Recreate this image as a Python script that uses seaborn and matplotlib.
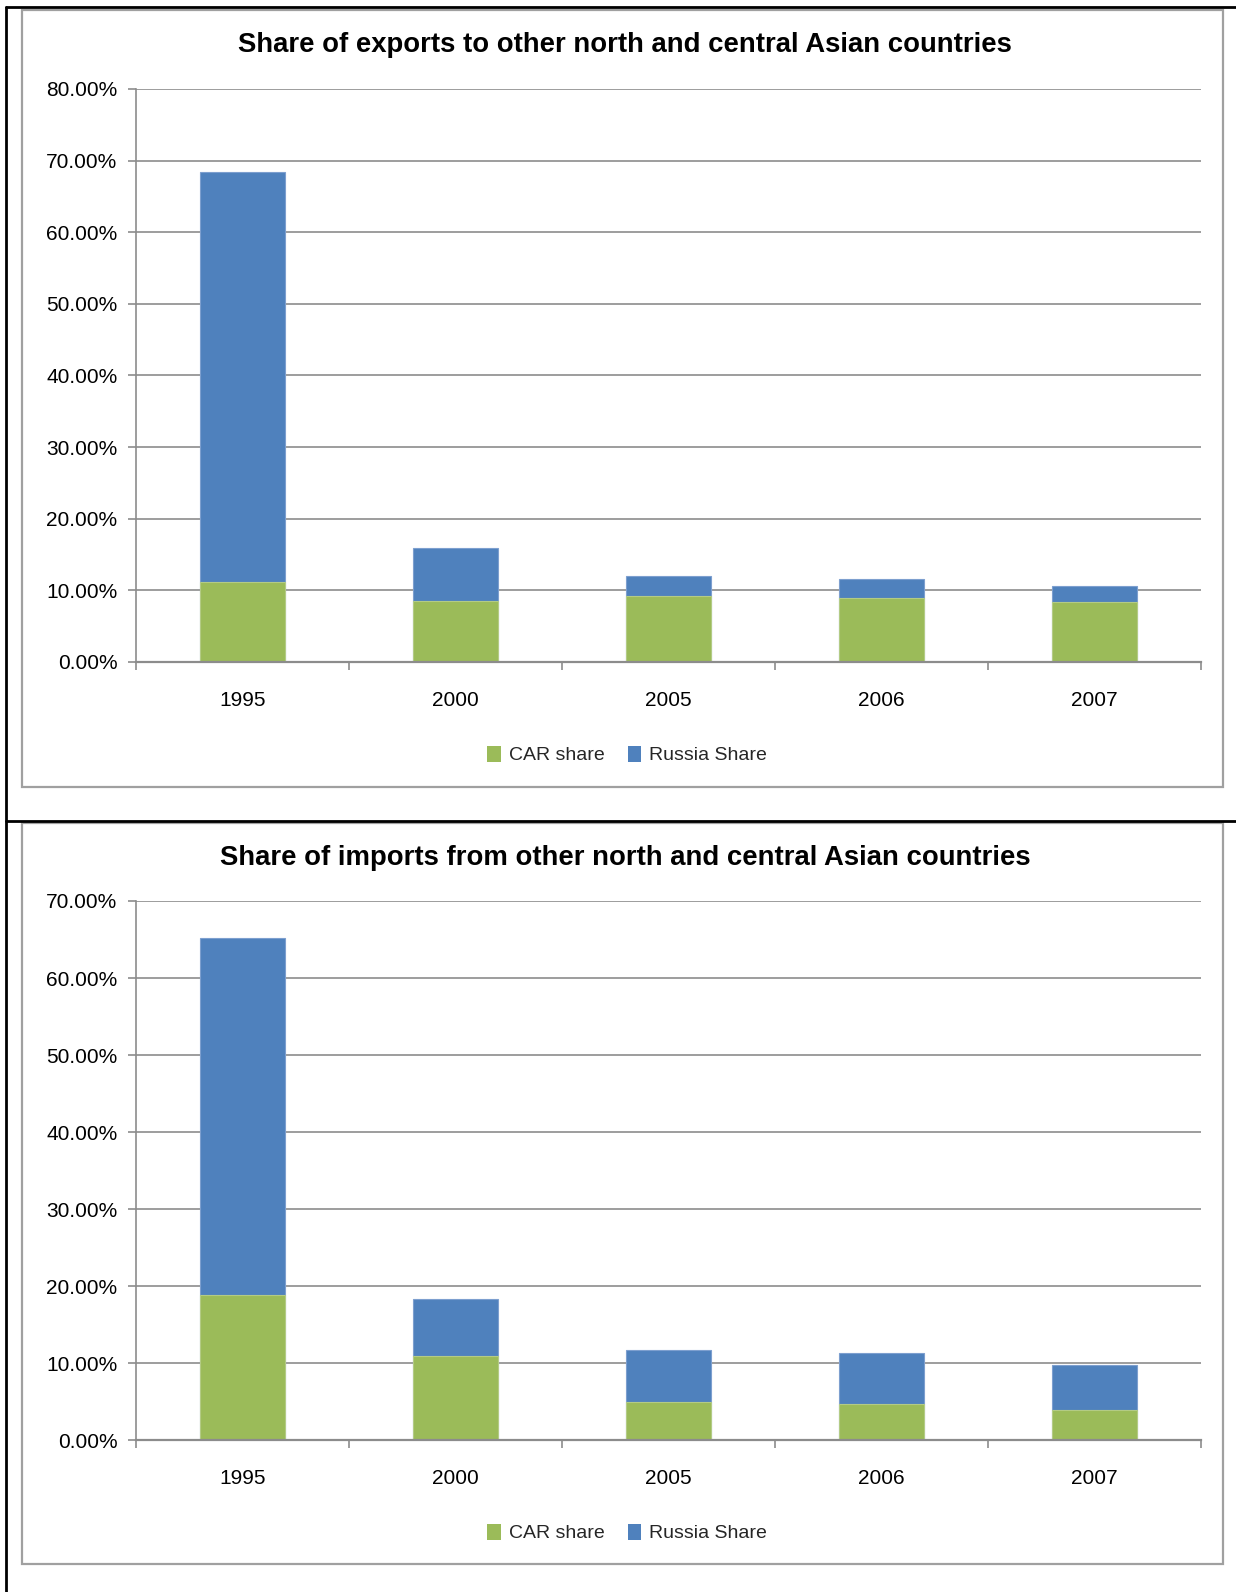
import matplotlib
matplotlib.use("Agg")
import matplotlib.pyplot as plt
import matplotlib.patches as mpatches
from matplotlib.lines import Line2D
from matplotlib.ticker import PercentFormatter, FixedLocator, MultipleLocator
import seaborn as sns
import pandas as pd

# Years shown on the x axis
years = ["1995", "2000", "2005", "2006", "2007"]

# Exports: shares in percent
export_car = [11.2, 8.55, 9.2, 8.95, 8.35]
export_russia = [57.2, 7.35, 2.8, 2.65, 2.25]

# Imports: shares in percent
import_car = [18.8, 10.9, 5.0, 4.7, 3.9]
import_russia = [46.4, 7.4, 6.7, 6.6, 5.85]

titles = [
    "Share of exports to other north and central Asian countries",
    "Share of imports from other north and central Asian countries",
]
series_names = ["CAR share", "Russia Share"]

GREEN = "#9BBB59"
BLUE = "#4F81BD"
GRID = "#8C8C8C"

sns.set_theme(style="white")
plt.rcParams["font.family"] = ["Liberation Sans", "DejaVu Sans"]

W, H = 1236, 1592
fig = plt.figure(figsize=(W / 100, H / 100), dpi=100)
fig.patch.set_facecolor("white")


def fx(px):
    return px / W


def fy(py):
    return 1 - py / H


panels = [
    dict(car=export_car, russia=export_russia, title=titles[0],
         ax_box=(135.6, 89.0, 1201.0, 662.0), ymax=80,
         frame=(22, 10, 1223, 787), title_y=45, legend_y=755),
    dict(car=import_car, russia=import_russia, title=titles[1],
         ax_box=(135.6, 901.0, 1201.0, 1440.3), ymax=70,
         frame=(22, 823, 1223, 1564), title_y=858, legend_y=1533),
]

for p in panels:
    x0, y0, x1, y1 = p["ax_box"]
    ax = fig.add_axes([fx(x0), fy(y1), fx(x1 - x0), (y1 - y0) / H])
    df = pd.DataFrame({
        "year": years,
        "car": p["car"],
        "russia": p["russia"],
    })
    df["total"] = df["car"] + df["russia"]

    # Stacked bars: full stack in blue, CAR part drawn over it in green
    sns.barplot(data=df, x="year", y="total", color=BLUE, width=0.4,
                saturation=1, edgecolor="#7D9FCF", linewidth=0.8, ax=ax,
                zorder=3)
    sns.barplot(data=df, x="year", y="car", color=GREEN, width=0.4,
                saturation=1, edgecolor="#B3CB85", linewidth=0.8, ax=ax,
                zorder=4)

    ax.set_xlim(-0.5, len(years) - 0.5)
    ax.set_ylim(0, p["ymax"])
    ax.yaxis.set_major_locator(MultipleLocator(10))
    ax.yaxis.set_major_formatter(PercentFormatter(100, decimals=2))
    ax.grid(axis="y", color=GRID, linewidth=1.2, zorder=0)
    ax.set_axisbelow(True)
    ax.set_xlabel("")
    ax.set_ylabel("")

    # Tick marks at category boundaries, labels at category centres
    ax.xaxis.set_major_locator(FixedLocator([i - 0.5 for i in range(len(years) + 1)]))
    ax.xaxis.set_minor_locator(FixedLocator(list(range(len(years)))))
    ax.set_xticklabels([""] * (len(years) + 1))
    ax.set_xticklabels(years, minor=True)
    ax.tick_params(axis="x", which="major", direction="out", length=6,
                   width=1.2, color=GRID, bottom=True)
    ax.tick_params(axis="x", which="minor", length=0, pad=21,
                   labelsize=15, labelcolor="black", bottom=True)
    ax.tick_params(axis="y", direction="out", length=6, width=1.2,
                   color=GRID, left=True, pad=7, labelsize=15,
                   labelcolor="black")

    for side in ["top", "right"]:
        ax.spines[side].set_visible(False)
    ax.spines["left"].set_color(GRID)
    ax.spines["left"].set_linewidth(1.2)
    ax.spines["bottom"].set_color(GRID)
    ax.spines["bottom"].set_linewidth(1.6)
    ax.spines["bottom"].set_zorder(6)

    # Chart frame
    a, b, c, d = p["frame"]
    fig.add_artist(mpatches.Rectangle((fx(a), fy(d)), fx(c - a), (d - b) / H,
                                      transform=fig.transFigure, fill=False,
                                      edgecolor="#A0A0A0", linewidth=1.6))

    fig.text(fx(625), fy(p["title_y"]), p["title"], ha="center", va="center",
             fontsize=19.8, fontweight="bold", color="black")

    handles = [mpatches.Patch(facecolor=GREEN, edgecolor="none"),
               mpatches.Patch(facecolor=BLUE, edgecolor="none")]
    fig.legend(handles, series_names, loc="center",
               bbox_to_anchor=(fx(627), fy(p["legend_y"])), ncol=2,
               frameon=False, fontsize=14, handlelength=0.7,
               handleheight=0.9, handletextpad=0.4, columnspacing=1.2)

# Page borders
lw = 2.0
fig.add_artist(Line2D([fx(6), 1], [fy(7), fy(7)], transform=fig.transFigure,
                      color="black", linewidth=lw))
fig.add_artist(Line2D([fx(6), fx(6)], [fy(7), 0], transform=fig.transFigure,
                      color="black", linewidth=lw))
fig.add_artist(Line2D([fx(6), 1], [fy(821), fy(821)], transform=fig.transFigure,
                      color="black", linewidth=lw))

fig.savefig("out.png", dpi=100, facecolor="white")
